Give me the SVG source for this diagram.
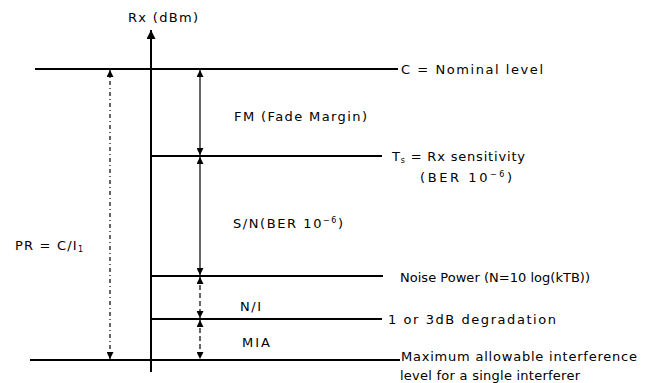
<svg xmlns="http://www.w3.org/2000/svg" width="647" height="383" viewBox="0 0 647 383">
<style>
text{font-family:"DejaVu Sans",Verdana,sans-serif;font-size:13px;fill:#000}
.lv{stroke:#000;stroke-width:2;fill:none}
.ax{stroke:#000;stroke-width:2;fill:none}
.dim{stroke:#000;stroke-width:1.2;fill:none}
.dash{stroke-dasharray:5,3}
.dot{stroke-dasharray:4,3,1,3}
</style>
<defs>
<marker id="ah" viewBox="0 0 10 10" refX="10" refY="5" markerWidth="7" markerHeight="7" orient="auto-start-reverse" markerUnits="userSpaceOnUse">
<path d="M0,0 L10,5 L0,10 Z" fill="#000"/>
</marker>
<marker id="axh" viewBox="0 0 10 10" refX="10" refY="5" markerWidth="9" markerHeight="9" orient="auto" markerUnits="userSpaceOnUse">
<path d="M0,0 L10,5 L0,10 Z" fill="#000"/>
</marker>
</defs>
<g id="connectors">
<line class="ax" x1="151" y1="372" x2="151" y2="30" marker-end="url(#axh)"/>
<line class="dim" x1="200" y1="70" x2="200" y2="155" marker-start="url(#ah)" marker-end="url(#ah)"/>
<line class="dim" x1="200" y1="157" x2="200" y2="275" marker-start="url(#ah)" marker-end="url(#ah)"/>
<line class="dim dash" x1="200" y1="277" x2="200" y2="318" marker-start="url(#ah)" marker-end="url(#ah)"/>
<line class="dim dash" x1="200" y1="320" x2="200" y2="359" marker-start="url(#ah)" marker-end="url(#ah)"/>
<line class="dim dot" x1="110" y1="70" x2="110" y2="359" marker-start="url(#ah)" marker-end="url(#ah)"/>
</g>
<g id="axis-label"><text x="128" y="22" textLength="70" lengthAdjust="spacing">Rx (dBm)</text></g>
<g id="level-c">
<line class="lv" x1="35" y1="69" x2="398" y2="69"/>
<text x="401" y="74" textLength="142" lengthAdjust="spacing">C = Nominal level</text>
</g>
<g id="level-ts">
<line class="lv" x1="151" y1="156" x2="382" y2="156"/>
<text x="392" y="161" textLength="133" lengthAdjust="spacing">T<tspan font-size="8" dy="2">s</tspan><tspan dy="-2"> = Rx sensitivity</tspan></text>
<text x="420" y="182" textLength="92" lengthAdjust="spacing">(BER 10<tspan font-size="8" dy="-5">−6</tspan><tspan dy="5">)</tspan></text>
</g>
<g id="level-noise">
<line class="lv" x1="151" y1="276" x2="383" y2="276"/>
<text x="400" y="282" textLength="190" lengthAdjust="spacing">Noise Power (N=10 log(kTB))</text>
</g>
<g id="level-degr">
<line class="lv" x1="151" y1="319" x2="382" y2="319"/>
<text x="388" y="324" textLength="168" lengthAdjust="spacing">1 or 3dB degradation</text>
</g>
<g id="level-max">
<line class="lv" x1="30" y1="360" x2="400" y2="360"/>
<text x="401" y="361" textLength="236" lengthAdjust="spacing">Maximum allowable interference</text>
<text x="400" y="380" textLength="180" lengthAdjust="spacing">level for a single interferer</text>
</g>
<g id="label-fm"><text x="234" y="121" textLength="133" lengthAdjust="spacing">FM (Fade Margin)</text></g>
<g id="label-sn"><text x="233" y="228" textLength="110" lengthAdjust="spacing">S/N(BER 10<tspan font-size="8" dy="-5">−6</tspan><tspan dy="5">)</tspan></text></g>
<g id="label-ni"><text x="240" y="311" textLength="21" lengthAdjust="spacing">N/I</text></g>
<g id="label-mia"><text x="242" y="347" textLength="28" lengthAdjust="spacing">MIA</text></g>
<g id="label-pr"><text x="15" y="250" textLength="68" lengthAdjust="spacing">PR = C/I<tspan font-size="8" dy="2">1</tspan></text></g>
</svg>
